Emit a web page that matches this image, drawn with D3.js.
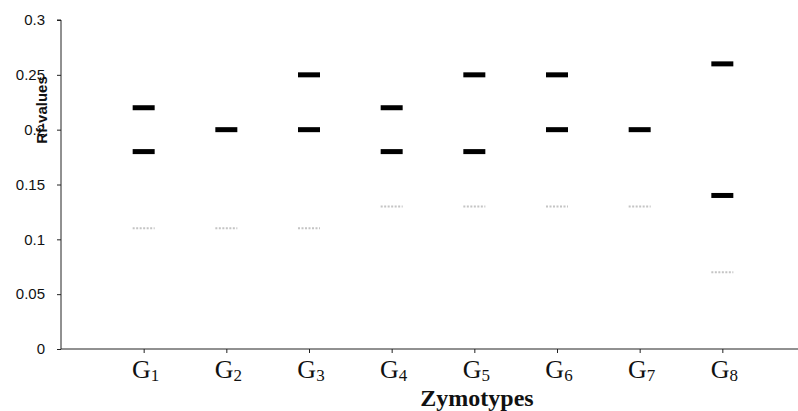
<!DOCTYPE html>
<html>
<head>
<meta charset="utf-8">
<script src="https://cdn.jsdelivr.net/npm/d3@7"></script>
<style>
  body { margin: 0; background: #fff; }
  .g-label { font-family: "Liberation Serif", "Times New Roman", serif; fill: #111; }
</style>
</head>
<body>
<div class="chart"></div>
<script>
// Rf-values of bands per zymotype
var zymotypes = ["1", "2", "3", "4", "5", "6", "7", "8"];
var strongBands = [[0.22, 0.18], [0.2], [0.25, 0.2], [0.22, 0.18], [0.25, 0.18], [0.25, 0.2], [0.2], [0.26, 0.14]];
var faintBands = [[0.11], [0.11], [0.11], [0.13], [0.13], [0.13], [0.13], [0.07]];
var yTicks = [0, 0.05, 0.1, 0.15, 0.2, 0.25, 0.3];

var svgWidth = 798;
var svgHeight = 411;

var svg = d3.select(".chart")
  .append("svg")
  .attr("width", svgWidth)
  .attr("height", svgHeight);

// x: positions 1..8 on a linear scale, 0 sits at the y axis
var xScale = d3.scaleLinear()
  .domain([0, 9])
  .range([61, 805]);

var yScale = d3.scaleLinear()
  .domain([0, 0.3])
  .range([349, 20]);

// y axis
var leftAxis = d3.axisLeft(yScale)
  .tickValues(yTicks)
  .tickSize(4)
  .tickFormat(d => d3.format("")(+d.toFixed(2)));

var yAxisG = svg.append("g")
  .attr("transform", `translate(${xScale(0)}, 0)`)
  .call(leftAxis)
  .attr("font-size", 15)
  .attr("font-family", "Liberation Sans, Arial, sans-serif");
yAxisG.select(".domain").attr("stroke", "#222").attr("d", `M-4,${yScale(0.3)}H0V${yScale(0)}`);
yAxisG.selectAll(".tick line").attr("stroke", "#222");
yAxisG.selectAll(".tick text")
  .attr("x", -16)
  .attr("fill", "#111");

// x axis
var bottomAxis = d3.axisBottom(xScale)
  .tickValues(d3.range(1, zymotypes.length + 1))
  .tickSize(4)
  .tickFormat("");

var xAxisG = svg.append("g")
  .attr("transform", `translate(0, ${yScale(0)})`)
  .call(bottomAxis);
xAxisG.select(".domain").attr("stroke", "#222").attr("d", `M${xScale(0)},0H${svgWidth}`);
xAxisG.selectAll(".tick line").attr("stroke", "#222");

// G labels with subscripts
var gLabels = svg.selectAll("text.g-label")
  .data(zymotypes)
  .enter()
  .append("text")
  .attr("class", "g-label")
  .attr("x", (d, i) => xScale(i + 1) + 2)
  .attr("y", 378)
  .attr("text-anchor", "middle");
gLabels.append("tspan").attr("font-size", 26).text("G");
gLabels.append("tspan").attr("font-size", 17).attr("dy", 3).text(d => d);

// faint bands
var faintData = [];
faintBands.forEach((vals, i) => vals.forEach(v => faintData.push({ g: i + 1, v: v })));
svg.selectAll("line.faint")
  .data(faintData)
  .enter()
  .append("line")
  .attr("class", "faint")
  .attr("x1", d => xScale(d.g) - 11)
  .attr("x2", d => xScale(d.g) + 11)
  .attr("y1", d => yScale(d.v))
  .attr("y2", d => yScale(d.v))
  .attr("stroke", "#c4c4c4")
  .attr("stroke-width", 2)
  .attr("stroke-dasharray", "2,1.5");

// strong bands
var strongData = [];
strongBands.forEach((vals, i) => vals.forEach(v => strongData.push({ g: i + 1, v: v })));
svg.selectAll("rect.band")
  .data(strongData)
  .enter()
  .append("rect")
  .attr("class", "band")
  .attr("x", d => xScale(d.g) - 11)
  .attr("y", d => yScale(d.v) - 2.5)
  .attr("width", 22)
  .attr("height", 5)
  .attr("fill", "#000");

// axis titles
svg.append("text")
  .attr("transform", "translate(47, 110) rotate(-90)")
  .attr("text-anchor", "middle")
  .attr("font-family", "Liberation Sans, Arial, sans-serif")
  .attr("font-weight", "bold")
  .attr("font-size", 15)
  .attr("fill", "#111")
  .text("Rf-values");

svg.append("text")
  .attr("x", 477)
  .attr("y", 406)
  .attr("text-anchor", "middle")
  .attr("font-family", "Liberation Serif, Times New Roman, serif")
  .attr("font-weight", "bold")
  .attr("font-size", 24)
  .attr("fill", "#111")
  .text("Zymotypes");
</script>
</body>
</html>
